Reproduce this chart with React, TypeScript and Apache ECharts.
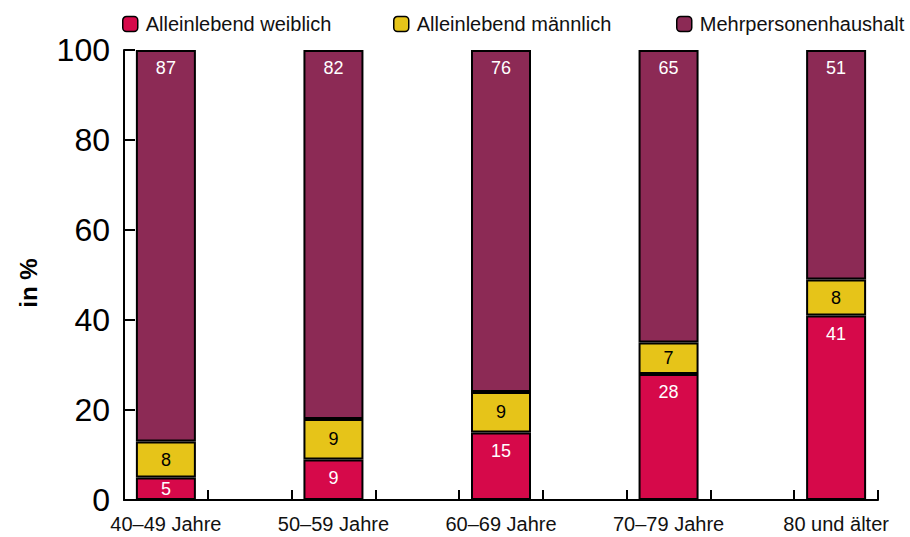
import React, { useEffect, useRef } from 'react';
import * as echarts from 'echarts';

const categories = ['40–49 Jahre', '50–59 Jahre', '60–69 Jahre', '70–79 Jahre', '80 und älter'];
const seriesNames = ['Alleinlebend weiblich', 'Alleinlebend männlich', 'Mehrpersonenhaushalt'];
const weiblich = [5, 9, 15, 28, 41];
const maennlich = [8, 9, 9, 7, 8];
const mehrpersonen = [87, 82, 76, 65, 51];
const yMin = 0;
const yMax = 100;
const yInterval = 20;

const colors = ['#D6094A', '#E6C419', '#8C2A55'];
const labelColors = ['#ffffff', '#000000', '#ffffff'];
const FONT = '"Liberation Sans", Arial, Helvetica, sans-serif';

export default function App() {
  const ref = useRef<HTMLDivElement>(null);
  useEffect(() => {
    const chart = echarts.init(ref.current!, null, { renderer: 'svg' });
    const values = [weiblich, maennlich, mehrpersonen];
    const legendLeft = [122, 393, 676];
    chart.setOption({
      animation: false,
      textStyle: { fontFamily: FONT },
      legend: seriesNames.map((name, k) => ({
        data: [name],
        left: legendLeft[k],
        top: 14,
        padding: 0,
        itemWidth: 15,
        itemHeight: 15,
        itemGap: 0,
        selectedMode: false,
        textStyle: { fontSize: 20, color: '#111', fontFamily: FONT, padding: [0, 0, 0, 3] },
        itemStyle: { borderColor: '#000', borderWidth: 1.5 },
      })),
      grid: { left: 124, right: 32, top: 50, bottom: 37 },
      xAxis: {
        type: 'value',
        min: -0.25,
        max: categories.length - 0.75,
        axisLine: { show: true, onZero: false, lineStyle: { color: '#000', width: 2 } },
        axisTick: {
          show: true,
          inside: true,
          length: 10,
          lineStyle: { color: '#000', width: 2 },
          customValues: categories.flatMap((_, i) => [i - 0.25, i + 0.25]),
        },
        axisLabel: {
          customValues: categories.map((_, i) => i),
          formatter: (v: number) => categories[Math.round(v)] ?? '',
          fontSize: 20,
          color: '#111',
          margin: 14,
          fontFamily: FONT,
        },
        splitLine: { show: false },
      },
      yAxis: {
        type: 'value',
        min: yMin,
        max: yMax,
        interval: yInterval,
        name: 'in %',
        nameLocation: 'middle',
        nameGap: 84,
        nameTextStyle: { fontSize: 24, fontWeight: 'bold', color: '#000', fontFamily: FONT, padding: [0, 16, 0, 0] },
        axisLine: { show: true, onZero: false, lineStyle: { color: '#000', width: 2 } },
        axisTick: { show: true, inside: true, length: 11, lineStyle: { color: '#000', width: 2 } },
        axisLabel: { fontSize: 32, color: '#000', margin: 14, fontFamily: FONT },
        splitLine: { show: false },
      },
      series: values.map((arr, k) => ({
        name: seriesNames[k],
        type: 'bar',
        stack: 'total',
        barWidth: 60,
        encode: { x: 1, y: 0 },
        data: arr.map((v, i) => ({
          value: [v, i],
          label: { position: k === 1 || v < 8 ? 'inside' : 'insideTop' },
        })),
        itemStyle: { color: colors[k], borderColor: '#000', borderWidth: 2 },
        label: {
          show: true,
          color: labelColors[k],
          fontSize: 18,
          distance: 9,
          fontFamily: FONT,
          formatter: (p: any) => String(p.value[0]),
        },
      })),
    });
    return () => chart.dispose();
  }, []);
  return <div ref={ref} style={{ position: 'absolute', left: 0, top: 0, width: 910, height: 537 }} />;
}
